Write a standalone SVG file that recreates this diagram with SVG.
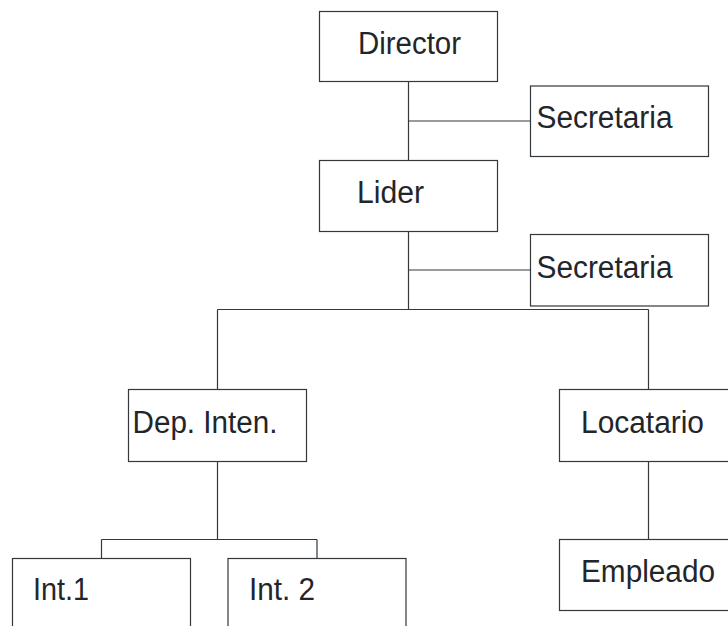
<svg xmlns="http://www.w3.org/2000/svg" width="728" height="626" viewBox="0 0 728 626">
<style>
.box{fill:#ffffff;stroke:#33383d;stroke-width:1.2}
.lbl{font-family:"Liberation Sans",Arial,sans-serif;font-size:31px;fill:#22262b}
.con{stroke:#33383d;stroke-width:1.2;fill:none}
</style>
<rect width="728" height="626" fill="#ffffff"/>
<g id="connectors">
<path class="con" d="M408.5,81.5V160.5 M408.5,121H530.5 M408.5,231.5V309.5 M408.5,270H530.5 M217.5,309.5H648.5 M217.5,309.5V389.5 M648.5,309.5V389.5 M217.5,461.5V539.5 M101.5,539.5H317 M101.5,539.5V558.5 M317,539.5V558.5 M648.5,461.5V539.5"/>
</g>
<g id="director"><rect class="box" x="319.5" y="11.5" width="178" height="70"/><text class="lbl" x="358" y="54" textLength="103" lengthAdjust="spacingAndGlyphs">Director</text></g>
<g id="secretaria1"><rect class="box" x="530.5" y="86" width="178" height="70.5"/><text class="lbl" x="536.5" y="128" textLength="136" lengthAdjust="spacingAndGlyphs">Secretaria</text></g>
<g id="lider"><rect class="box" x="319.5" y="160.5" width="178" height="71"/><text class="lbl" x="357" y="202.5" textLength="67" lengthAdjust="spacingAndGlyphs">Lider</text></g>
<g id="secretaria2"><rect class="box" x="530.5" y="234.5" width="178" height="71.5"/><text class="lbl" x="536.5" y="277.5" textLength="136" lengthAdjust="spacingAndGlyphs">Secretaria</text></g>
<g id="dep-inten"><rect class="box" x="128.5" y="389.5" width="178" height="72"/><text class="lbl" x="132.5" y="433" textLength="145" lengthAdjust="spacingAndGlyphs">Dep. Inten.</text></g>
<g id="locatario"><rect class="box" x="559.5" y="389.5" width="178" height="72"/><text class="lbl" x="581" y="433" textLength="123" lengthAdjust="spacingAndGlyphs">Locatario</text></g>
<g id="int1"><rect class="box" x="12.5" y="558.5" width="178" height="72"/><text class="lbl" x="33" y="600" textLength="56" lengthAdjust="spacingAndGlyphs">Int.1</text></g>
<g id="int2"><rect class="box" x="228" y="558.5" width="178" height="72"/><text class="lbl" x="249" y="600" textLength="66" lengthAdjust="spacingAndGlyphs">Int. 2</text></g>
<g id="empleado"><rect class="box" x="559.5" y="539.5" width="178" height="71"/><text class="lbl" x="581" y="581.5" textLength="134" lengthAdjust="spacingAndGlyphs">Empleado</text></g>
</svg>
